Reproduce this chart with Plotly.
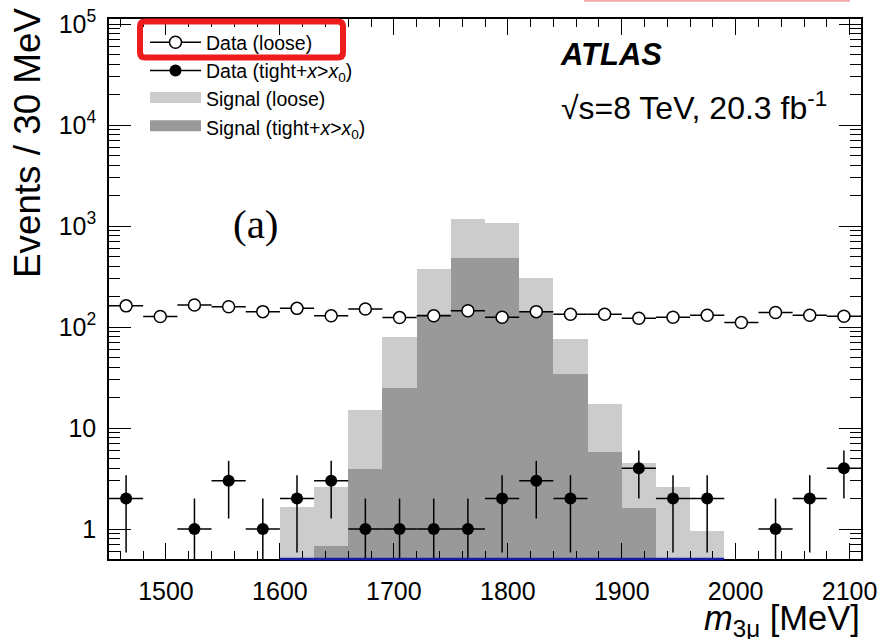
import math
import plotly.graph_objects as go

# ---------------- data ----------------
bin_centers = [1465, 1495, 1525, 1555, 1585, 1615, 1645, 1675, 1705, 1735, 1765,
               1795, 1825, 1855, 1885, 1915, 1945, 1975, 2005, 2035, 2065, 2095]
bin_width = 30

data_loose = [162, 127, 165, 159, 142, 153, 129, 151, 124, 129, 145,
              125, 142, 134, 134, 122, 125, 131, 111, 139, 131, 128]
data_tight = [2, 0, 1, 3, 1, 2, 3, 1, 1, 1, 1,
              2, 3, 2, 0, 4, 2, 2, 0, 1, 2, 4]
signal_loose = [None, None, None, None, None, 1.66, 2.59, 15.1, 79, 375, 1165,
                1063, 303, 76, 17.3, 4.53, 2.59, 0.955, None, None, None, None]
signal_tight = [None, None, None, None, None, None, 0.68, 3.93, 25.1, 134, 478,
                486, 140, 34, 5.83, 1.63, None, None, None, None, None, None]

x_tickvals = [1500, 1600, 1700, 1800, 1900, 2000, 2100]
y_tickvals = [1, 10, 100, 1000, 10000, 100000]
y_ticktext = ["1", "10", "10<sup>2</sup>", "10<sup>3</sup>", "10<sup>4</sup>", "10<sup>5</sup>"]

x_range = [1450, 2110]
y_range_log = [-0.297, 5.05]

FONT = "Liberation Sans"

# ---------------- figure ----------------
fig = go.Figure()

fig.add_trace(go.Bar(x=bin_centers, y=signal_loose, width=bin_width,
                     marker=dict(color="#cccccc", line=dict(width=0)),
                     showlegend=False))
fig.add_trace(go.Bar(x=bin_centers, y=signal_tight, width=bin_width,
                     marker=dict(color="#999999", line=dict(width=0)),
                     showlegend=False))

# loose data
fig.add_trace(go.Scatter(
    x=bin_centers, y=data_loose, mode="markers",
    marker=dict(symbol="circle", size=12, color="white",
                line=dict(color="black", width=1.5)),
    error_x=dict(type="constant", value=bin_width / 2, width=0, thickness=1.5, color="black"),
    error_y=dict(type="data", array=[math.sqrt(v) for v in data_loose],
                 width=0, thickness=1.5, color="black"),
    showlegend=False))

# tight data (empty bins not drawn)
tx = [c for c, n in zip(bin_centers, data_tight) if n > 0]
ty = [n for n in data_tight if n > 0]
fig.add_trace(go.Scatter(
    x=tx, y=ty, mode="markers",
    marker=dict(symbol="circle", size=12, color="black"),
    error_x=dict(type="constant", value=bin_width / 2, width=0, thickness=1.5, color="black"),
    error_y=dict(type="data", array=[math.sqrt(v) for v in ty],
                 width=0, thickness=1.5, color="black"),
    showlegend=False))

# legend entries
fig.add_trace(go.Scatter(x=[None], y=[None], mode="lines+markers", name="Data (loose)",
                         line=dict(color="black", width=1.5),
                         marker=dict(symbol="circle", size=12, color="white",
                                     line=dict(color="black", width=1.5))))
fig.add_trace(go.Scatter(x=[None], y=[None], mode="lines+markers",
                         name="Data (tight+<i>x</i>><i>x</i><sub>0</sub>)",
                         line=dict(color="black", width=1.5),
                         marker=dict(symbol="circle", size=12, color="black")))
fig.add_trace(go.Scatter(x=[None], y=[None], mode="lines", fill="toself",
                         name="Signal (loose)", fillcolor="#cccccc",
                         line=dict(color="#cccccc", width=10)))
fig.add_trace(go.Scatter(x=[None], y=[None], mode="lines", fill="toself",
                         name="Signal (tight+<i>x</i>><i>x</i><sub>0</sub>)", fillcolor="#999999",
                         line=dict(color="#999999", width=10)))

# ---------------- layout helpers ----------------
L, R, T, B = 109, 861, 19, 559
W, H = R - L, B - T


def px(x):
    return (x - L) / W


def py(y):
    return (B - y) / H


# blue baseline of signal histogram
sig_idx = [i for i, v in enumerate(signal_loose) if v is not None]
fig.add_shape(type="line", xref="x", yref="paper",
              x0=bin_centers[sig_idx[0]] - bin_width / 2,
              x1=bin_centers[sig_idx[-1]] + bin_width / 2,
              y0=0, y1=0, line=dict(color="#1a1aa6", width=2.5), layer="above")


def rr_path(x0, x1, y0, y1, r):
    pts = [
        ("M", [(x0 + r, y0)]), ("L", [(x1 - r, y0)]), ("Q", [(x1, y0), (x1, y0 + r)]),
        ("L", [(x1, y1 - r)]), ("Q", [(x1, y1), (x1 - r, y1)]),
        ("L", [(x0 + r, y1)]), ("Q", [(x0, y1), (x0, y1 - r)]),
        ("L", [(x0, y0 + r)]), ("Q", [(x0, y0), (x0 + r, y0)]),
    ]
    s = ""
    for cmd, ps in pts:
        s += cmd + " ".join(f"{px(a):.5f},{py(b):.5f}" for a, b in ps) + " "
    return s + "Z"


# red highlight box around first legend entry (rounded)
fig.add_shape(type="path", xref="paper", yref="paper", path=rr_path(140, 343, 21.5, 57.5, 5),
              line=dict(color="#ee1c1c", width=6), layer="above")
# faint pink edge of a cut-off box at top
fig.add_shape(type="line", xref="paper", yref="paper", x0=px(584), x1=px(850),
              y0=py(0.8), y1=py(0.8), line=dict(color="#f6a8a8", width=2), layer="above")

# text
fig.add_annotation(text="<b><i>ATLAS</i></b>", xref="paper", yref="paper",
                   x=px(558), y=py(55), xanchor="left", yanchor="middle", showarrow=False,
                   font=dict(family=FONT, size=31, color="black"))
fig.add_annotation(text="√s=8 TeV, 20.3 fb<sup>-1</sup>", xref="paper", yref="paper",
                   x=px(559), y=py(106), xanchor="left", yanchor="middle", showarrow=False,
                   font=dict(family=FONT, size=32, color="black"))
fig.add_annotation(text="(a)", xref="paper", yref="paper",
                   x=px(256), y=py(224), xanchor="center", yanchor="middle", showarrow=False,
                   font=dict(family="Liberation Serif", size=41, color="black"))
fig.add_annotation(text="Events / 30 MeV", xref="paper", yref="paper", textangle=-90,
                   x=px(28), y=py(6), xanchor="center", yanchor="top", showarrow=False,
                   font=dict(family=FONT, size=36.8, color="black"))
fig.add_annotation(text="<i>m</i><sub>3μ</sub> [MeV]", xref="paper", yref="paper",
                   x=px(862), y=py(621), xanchor="right", yanchor="middle", showarrow=False,
                   font=dict(family=FONT, size=34.5, color="black"))

fig.update_layout(
    width=879, height=639,
    margin=dict(l=L, r=879 - R, t=T, b=639 - B, pad=0, autoexpand=False),
    paper_bgcolor="white", plot_bgcolor="white",
    barmode="overlay", bargap=0,
    font=dict(family=FONT, color="black"),
    showlegend=True,
    legend=dict(x=px(145), y=py(23), xanchor="left", yanchor="top",
                bgcolor="rgba(0,0,0,0)", borderwidth=0, itemwidth=51,
                font=dict(family=FONT, size=19.5, color="black"),
                tracegroupgap=0, itemclick=False),
    xaxis=dict(range=x_range, tickvals=x_tickvals, ticks="inside", ticklen=16, tickwidth=1.2,
               tickcolor="black", showline=True, linecolor="black", linewidth=1.5,
               mirror="allticks", showgrid=False, zeroline=False, automargin=False,
               tickfont=dict(family=FONT, size=25, color="black"), ticklabelstandoff=9,
               minor=dict(dtick=20, tick0=1500, ticks="inside", ticklen=8, tickwidth=1.2,
                          tickcolor="black", showgrid=False)),
    yaxis=dict(type="log", range=y_range_log, tickvals=y_tickvals, ticktext=y_ticktext,
               ticks="inside", ticklen=22, tickwidth=1.2, tickcolor="black",
               showline=True, linecolor="black", linewidth=1.5, mirror="allticks",
               showgrid=False, zeroline=False, automargin=False,
               tickfont=dict(family=FONT, size=25, color="black"), ticklabelstandoff=6,
               minor=dict(tickvals=[m * 10 ** e for e in range(-1, 5) for m in range(2, 10)],
                          ticks="inside", ticklen=11, tickwidth=1.2, tickcolor="black",
                          showgrid=False)),
)

fig.write_html("out.html", config={"displayModeBar": False},
               post_script="document.body.style.margin='0px';")
